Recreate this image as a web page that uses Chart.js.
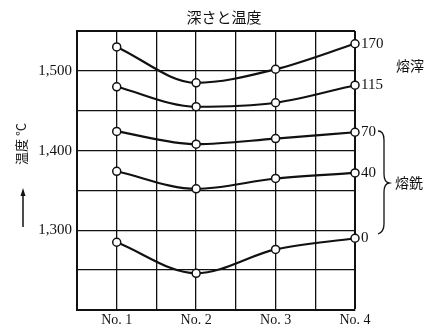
<!DOCTYPE html>
<html>
<head>
<meta charset="utf-8">
<script src="https://cdn.jsdelivr.net/npm/chart.js@4/dist/chart.umd.min.js"></script>
<style>
  html, body { margin: 0; padding: 0; background: #fff; }
  canvas { display: block; }
</style>
</head>
<body>
<canvas id="chart" width="425" height="328"></canvas>
<script>
// data
const categories = ["No. 1", "No. 2", "No. 3", "No. 4"];
const depthLabels = ["170", "115", "70", "40", "0"];
const depth170 = [1530, 1485, 1502, 1534];
const depth115 = [1480, 1455, 1460, 1482];
const depth70 = [1424, 1408, 1415, 1423];
const depth40 = [1374, 1352, 1365, 1372];
const depth0 = [1285, 1246, 1276, 1290];
const yLabelValues = [1300, 1400, 1500];

const serif = "'Liberation Serif', 'DejaVu Serif', serif";
const jp = "'Noto Sans CJK JP', sans-serif";

function toPoints(values) {
    return values.map((v, i) => ({ x: i + 1, y: v }));
}

function makeSeries(values) {
    return {
        data: toPoints(values),
        borderColor: "#111",
        borderWidth: 2.2,
        cubicInterpolationMode: "monotone",
        fill: false,
        clip: false,
        pointRadius: 4,
        pointBackgroundColor: "#fff",
        pointBorderColor: "#111",
        pointBorderWidth: 1.5,
    };
}

// title, axis title, end labels, braces
const extraText = {
    id: "extraText",
    afterDraw(chart) {
        const { ctx, scales: { x, y } } = chart;
        ctx.save();
        ctx.fillStyle = "#111";
        ctx.strokeStyle = "#111";

        ctx.font = "15px " + jp;
        ctx.textAlign = "center";
        ctx.textBaseline = "middle";
        ctx.fillText("深さと温度", 224, 17);

        // vertical axis title with arrow
        ctx.save();
        ctx.translate(21, 144);
        ctx.rotate(-Math.PI / 2);
        ctx.font = "13px " + jp;
        ctx.fillText("温度 °C", 0, 0);
        ctx.restore();
        ctx.lineWidth = 1.5;
        ctx.beginPath();
        ctx.moveTo(23, 227);
        ctx.lineTo(23, 192);
        ctx.stroke();
        ctx.beginPath();
        ctx.moveTo(23, 188);
        ctx.lineTo(20.5, 196);
        ctx.lineTo(25.5, 196);
        ctx.closePath();
        ctx.fill();

        // depth labels at the end of each line
        ctx.font = "15px " + serif;
        ctx.textAlign = "left";
        chart.data.datasets.forEach((ds, i) => {
            const last = ds.data[ds.data.length - 1];
            ctx.fillText(depthLabels[i], x.getPixelForValue(last.x) + 6, y.getPixelForValue(last.y));
        });

        ctx.font = "14px " + jp;
        ctx.textAlign = "center";
        ctx.fillText("熔滓", 410, 66);
        ctx.fillText("熔銑", 409, 183);

        // brace for the iron lines
        ctx.lineWidth = 1.3;
        ctx.beginPath();
        ctx.moveTo(378, 131);
        ctx.quadraticCurveTo(384, 131, 384, 140);
        ctx.lineTo(384, 174);
        ctx.quadraticCurveTo(384, 182, 389, 183);
        ctx.quadraticCurveTo(384, 184, 384, 192);
        ctx.lineTo(384, 224);
        ctx.quadraticCurveTo(384, 232, 378, 234);
        ctx.stroke();

        ctx.restore();
    }
};

const ctx = document.getElementById("chart").getContext("2d");

const chart = new Chart(ctx, {
    type: "line",
    data: {
        datasets: [
            makeSeries(depth170),
            makeSeries(depth115),
            makeSeries(depth70),
            makeSeries(depth40),
            makeSeries(depth0),
        ]
    },
    options: {
        responsive: false,
        animation: false,
        layout: { padding: { left: 0, right: 70, top: 31, bottom: 0 } },
        plugins: {
            legend: { display: false },
            tooltip: { enabled: false },
        },
        scales: {
            x: {
                type: "linear",
                min: 0.5,
                max: 4,
                afterFit: (scale) => { scale.height = 18; },
                ticks: {
                    stepSize: 0.5,
                    autoSkip: false,
                    maxRotation: 0,
                    padding: 2,
                    color: "#111",
                    font: { family: serif, size: 14 },
                    callback: (v) => Number.isInteger(v) ? categories[v - 1] : "",
                },
                grid: {
                    color: "#111",
                    lineWidth: (c) => c.tick && c.tick.value === 4 ? 2 : 1.3,
                    drawTicks: false,
                },
                border: { color: "#111", width: 2 },
            },
            y: {
                min: 1200,
                max: 1550,
                afterFit: (scale) => { scale.width = 77; },
                ticks: {
                    stepSize: 50,
                    autoSkip: false,
                    padding: 5,
                    color: "#111",
                    font: { family: serif, size: 15 },
                    callback: (v) => yLabelValues.includes(v) ? v.toLocaleString("en-US") : "",
                },
                grid: {
                    color: "#111",
                    lineWidth: (c) => c.tick && c.tick.value === 1550 ? 2 : 1.3,
                    drawTicks: false,
                },
                border: { color: "#111", width: 2 },
            }
        }
    },
    plugins: [extraText]
});
</script>
</body>
</html>
